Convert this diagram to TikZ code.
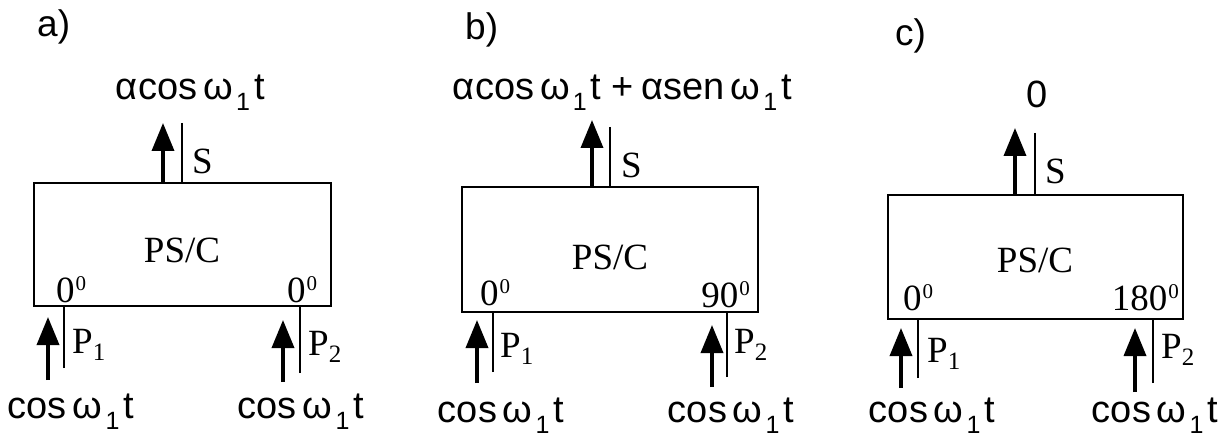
\documentclass[tikz,border=0pt]{standalone}
\usepackage{fontspec}
\setmainfont{Liberation Serif}
\newfontfamily\sansf{Liberation Sans}
\usetikzlibrary{arrows.meta}
\newcommand{\lowsub}[1]{\raisebox{-11pt}{\fontsize{25}{25}\selectfont #1}}
\newcommand{\psub}[1]{\raisebox{-7pt}{\fontsize{25}{25}\selectfont #1}}
\newcommand{\coswt}{cos\hspace{6pt}ω\hspace{3pt}\lowsub{1}\hspace{4pt}t}
\newcommand{\degsup}[1]{#1\hspace{1pt}\raisebox{12pt}{\fontsize{21}{21}\selectfont 0}}
\tikzset{
  psbox/.style={draw, line width=2.8pt, inner sep=0pt},
  portline/.style={line width=2.8pt},
  sigarrow/.style={line width=3.6pt, -{Triangle[width=22pt,length=28pt]}},
  serif/.style={font=\fontsize{37}{37}\selectfont, inner sep=0pt},
  sanstext/.style={font=\sansf\fontsize{38}{38}\selectfont, inner sep=0pt},
  panellabel/.style={font=\sansf\fontsize{37}{37}\selectfont, inner sep=0pt, anchor=base west},
}
\begin{document}
\begin{tikzpicture}[x=1pt,y=-1pt]
\useasboundingbox[fill=white] (0,0) rectangle (1221,441);

% ---------------- panel a ----------------
\node[panellabel] (la) at (37,37) {a)};
\node[psbox, minimum width=297pt, minimum height=123pt] (Ba) at (182.5,244.5) {};
\node[serif] (ta) at (182,250) {PS/C};
\coordinate (Sa) at (182,123);
\draw[portline] (Sa) -- (Sa |- Ba.north);
\coordinate (Oa0) at (163,182); \coordinate (Oa1) at (163,123);
\draw[sigarrow] (Oa0) -- (Oa1);
\node[serif, anchor=base west] (sa) at (192,173) {S};
\node[sanstext, anchor=base] (oa) at (190,100) {α\hspace{1pt}\coswt};
\node[serif, anchor=base west] (da1) at (56,302) {\degsup{0}};
\node[serif, anchor=base west] (da2) at (287,302) {\degsup{0}};
\coordinate (Pa1) at (64,368);
\draw[portline] (Pa1) -- (Pa1 |- Ba.south);
\coordinate (Ia1b) at (48,380); \coordinate (Ia1t) at (48,317);
\draw[sigarrow] (Ia1b) -- (Ia1t);
\node[serif, anchor=base west] (pa1) at (72,353) {P\psub{1}};
\coordinate (Pa2) at (300,373);
\draw[portline] (Pa2) -- (Pa2 |- Ba.south);
\coordinate (Ia2b) at (283,382); \coordinate (Ia2t) at (283,320);
\draw[sigarrow] (Ia2b) -- (Ia2t);
\node[serif, anchor=base west] (pa2) at (308,355) {P\psub{2}};
\node[sanstext, anchor=base] (ia1) at (71,418) {\coswt};
\node[sanstext, anchor=base] (ia2) at (301,418) {\coswt};

% ---------------- panel b ----------------
\node[panellabel] (lb) at (465,40) {b)};
\node[psbox, minimum width=296pt, minimum height=125pt] (Bb) at (610,249.5) {};
\node[serif] (tb) at (610,257) {PS/C};
\coordinate (Sb) at (610,127);
\draw[portline] (Sb) -- (Sb |- Bb.north);
\coordinate (Ob0) at (592,186); \coordinate (Ob1) at (592,120);
\draw[sigarrow] (Ob0) -- (Ob1);
\node[serif, anchor=base west] (sb) at (621,177) {S};
\node[sanstext, anchor=base] (ob) at (622,100) {α\hspace{1pt}\coswt\hspace{10pt}+\hspace{8pt}αsen\hspace{6pt}ω\hspace{3pt}\lowsub{1}\hspace{4pt}t};
\node[serif, anchor=base west] (db1) at (480,305) {\degsup{0}};
\node[serif, anchor=base east] (db2) at (750,307) {\degsup{90}};
\coordinate (Pb1) at (493,372);
\draw[portline] (Pb1) -- (Pb1 |- Bb.south);
\coordinate (Ib1b) at (477,383); \coordinate (Ib1t) at (477,320);
\draw[sigarrow] (Ib1b) -- (Ib1t);
\node[serif, anchor=base west] (pb1) at (500,357) {P\psub{1}};
\coordinate (Pb2) at (727,377);
\draw[portline] (Pb2) -- (Pb2 |- Bb.south);
\coordinate (Ib2b) at (712,387); \coordinate (Ib2t) at (712,325);
\draw[sigarrow] (Ib2b) -- (Ib2t);
\node[serif, anchor=base west] (pb2) at (734,353) {P\psub{2}};
\node[sanstext, anchor=base] (ib1) at (501,422) {\coswt};
\node[sanstext, anchor=base] (ib2) at (731,422) {\coswt};

% ---------------- panel c ----------------
\node[panellabel] (lc) at (895,46) {c)};
\node[psbox, minimum width=295pt, minimum height=124pt] (Bc) at (1035.5,257) {};
\node[serif] (tc) at (1035,260) {PS/C};
\coordinate (Sc) at (1035,133);
\draw[portline] (Sc) -- (Sc |- Bc.north);
\coordinate (Oc0) at (1015,194); \coordinate (Oc1) at (1015,128);
\draw[sigarrow] (Oc0) -- (Oc1);
\node[serif, anchor=base west] (sc) at (1045,183) {S};
\node[sanstext, anchor=base] (oc) at (1037,108) {0};
\node[serif, anchor=base west] (dc1) at (903,310) {\degsup{0}};
\node[serif, anchor=base east] (dc2) at (1179,310) {\degsup{180}};
\coordinate (Pc1) at (918,378);
\draw[portline] (Pc1) -- (Pc1 |- Bc.south);
\coordinate (Ic1b) at (901,388); \coordinate (Ic1t) at (901,328);
\draw[sigarrow] (Ic1b) -- (Ic1t);
\node[serif, anchor=base west] (pc1) at (927,362) {P\psub{1}};
\coordinate (Pc2) at (1153,383);
\draw[portline] (Pc2) -- (Pc2 |- Bc.south);
\coordinate (Ic2b) at (1135,392); \coordinate (Ic2t) at (1135,328);
\draw[sigarrow] (Ic2b) -- (Ic2t);
\node[serif, anchor=base west] (pc2) at (1161,358) {P\psub{2}};
\node[sanstext, anchor=base] (ic1) at (932,422) {\coswt};
\node[sanstext, anchor=base] (ic2) at (1155,422) {\coswt};
\end{tikzpicture}
\end{document}
